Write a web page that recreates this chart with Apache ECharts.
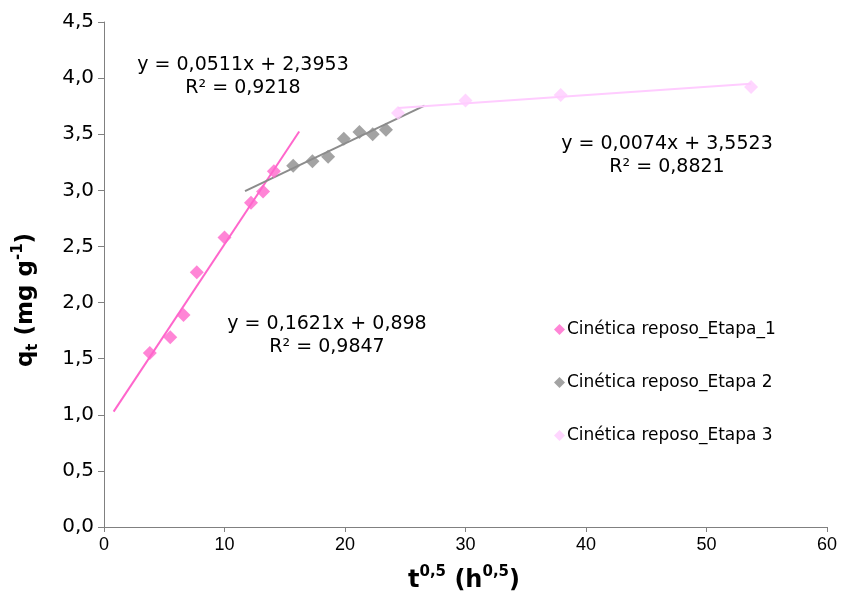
<!DOCTYPE html>
<html>
<head>
<meta charset="utf-8">
<script src="https://cdn.jsdelivr.net/npm/echarts@6/dist/echarts.min.js"></script>
<style>
  html, body { margin: 0; padding: 0; background: #fff; }
  #main { width: 841px; height: 591px; }
</style>
</head>
<body>
<div id="main"></div>
<script>
// data: t^0.5 vs q_t
const etapa1X = [3.8, 5.5, 6.6, 7.7, 10.0, 12.2, 13.2, 14.1];
const etapa1Y = [1.55, 1.69, 1.89, 2.27, 2.58, 2.89, 2.99, 3.17];
const etapa2X = [15.7, 17.3, 18.6, 19.9, 21.2, 22.3, 23.4];
const etapa2Y = [3.22, 3.26, 3.30, 3.46, 3.52, 3.50, 3.54];
const etapa3X = [24.4, 30.0, 37.9, 53.7];
const etapa3Y = [3.69, 3.80, 3.85, 3.92];

// linear fits shown on the chart: [slope, intercept, xStart, xEnd]
const fit1 = [0.1621, 0.898, 0.8, 16.2];
const fit2 = [0.0511, 2.3953, 11.7, 26.6];
const fit3 = [0.0074, 3.5523, 24.4, 53.7];

const seriesNames = ['Cinética reposo_Etapa_1', 'Cinética reposo_Etapa 2', 'Cinética reposo_Etapa 3'];
const colors = ['#ff66cc', '#8c8c8c', '#ffccff'];

const xTicks = { min: 0, max: 60, step: 10 };
const yTicks = { min: 0, max: 4.5, step: 0.5 };

const zip = (xs, ys) => xs.map((x, i) => [x, ys[i]]);
const fitLine = f => [[f[2], f[0] * f[2] + f[1]], [f[3], f[0] * f[3] + f[1]]];

const chart = echarts.init(document.getElementById('main'));
const font = 'DejaVu Sans, Verdana, sans-serif';

const eqText = (x, y, lines) => ({
  type: 'text', x: x, y: y, z: 10,
  style: { text: lines.join('\n'), font: '19px ' + font, fill: '#000', align: 'center', verticalAlign: 'top', lineHeight: 23 }
});

chart.setOption({
  animation: false,
  backgroundColor: '#fff',
  grid: { left: 104, right: 14, top: 22, bottom: 64 },
  xAxis: {
    type: 'value', min: xTicks.min, max: xTicks.max, interval: xTicks.step,
    splitLine: { show: false },
    axisLine: { lineStyle: { color: '#808080' } },
    axisTick: { length: 5, lineStyle: { color: '#808080' } },
    axisLabel: { color: '#000', fontSize: 18, fontFamily: 'Liberation Sans, Arial, sans-serif', margin: 9 }
  },
  yAxis: {
    type: 'value', min: yTicks.min, max: yTicks.max, interval: yTicks.step,
    splitLine: { show: false },
    axisLine: { show: true, lineStyle: { color: '#808080' } },
    axisTick: { show: true, length: 6, lineStyle: { color: '#808080' } },
    axisLabel: { color: '#000', fontSize: 20, fontFamily: font, margin: 10,
      formatter: v => v.toFixed(1).replace('.', ',') }
  },
  legend: {
    orient: 'vertical', left: 549, top: 316, itemGap: 36,
    itemWidth: 11, itemHeight: 11,
    data: seriesNames.map(n => ({ name: n, icon: 'diamond' })),
    textStyle: { color: '#000', fontSize: 17, fontFamily: font, padding: [0, 0, 0, -3] }
  },
  graphic: [
    eqText(243, 54, ['y = 0,0511x + 2,3953', 'R² = 0,9218']),
    eqText(667, 133, ['y = 0,0074x + 3,5523', 'R² = 0,8821']),
    eqText(327, 313, ['y = 0,1621x + 0,898', 'R² = 0,9847']),
    {
      type: 'text', x: 464, y: 579, z: 10,
      style: {
        text: '{b|t}{s|0,5}{b| (h}{s|0,5}{b|)}', align: 'center', verticalAlign: 'middle',
        rich: {
          b: { font: 'bold 24px ' + font, fill: '#000', verticalAlign: 'bottom', lineHeight: 28 },
          s: { font: 'bold 15px ' + font, fill: '#000', verticalAlign: 'top', lineHeight: 28 }
        }
      }
    },
    {
      type: 'text', x: 26, y: 300, rotation: Math.PI / 2, z: 10,
      style: {
        text: '{b|q}{d|t}{b| (mg g}{s|-1}{b|)}', align: 'center', verticalAlign: 'middle',
        rich: {
          b: { font: 'bold 23px ' + font, fill: '#000', verticalAlign: 'middle', lineHeight: 30 },
          d: { font: 'bold 15px ' + font, fill: '#000', verticalAlign: 'bottom', lineHeight: 30 },
          s: { font: 'bold 15px ' + font, fill: '#000', verticalAlign: 'top', lineHeight: 30 }
        }
      }
    }
  ],
  series: [
    { name: 'fit1', type: 'line', data: fitLine(fit1), symbol: 'none', silent: true, lineStyle: { color: colors[0], width: 2 }, z: 1 },
    { name: 'fit2', type: 'line', data: fitLine(fit2), symbol: 'none', silent: true, lineStyle: { color: colors[1], width: 2 }, z: 1 },
    { name: 'fit3', type: 'line', data: fitLine(fit3), symbol: 'none', silent: true, lineStyle: { color: colors[2], width: 2 }, z: 1 },
    { name: seriesNames[0], type: 'scatter', data: zip(etapa1X, etapa1Y), symbol: 'diamond', symbolSize: 14, itemStyle: { color: colors[0] }, z: 2 },
    { name: seriesNames[1], type: 'scatter', data: zip(etapa2X, etapa2Y), symbol: 'diamond', symbolSize: 14, itemStyle: { color: colors[1] }, z: 2 },
    { name: seriesNames[2], type: 'scatter', data: zip(etapa3X, etapa3Y), symbol: 'diamond', symbolSize: 14, itemStyle: { color: colors[2] }, z: 2 }
  ]
});
</script>
</body>
</html>
